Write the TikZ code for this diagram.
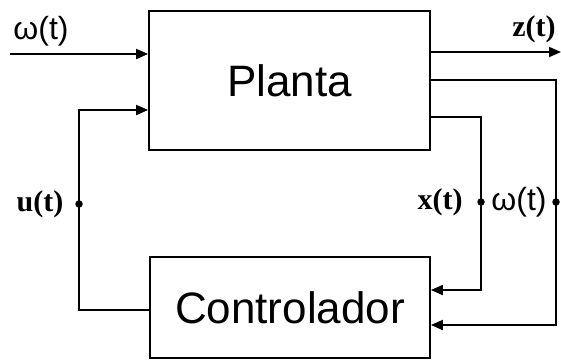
\documentclass[tikz,border=0pt]{standalone}
\usepackage{fontspec}
\setmainfont{Liberation Serif}
\newfontfamily\arialfont{Liberation Sans}
\usetikzlibrary{arrows.meta}
\tikzset{
  blockbox/.style={draw, line width=1.8pt, rectangle, inner sep=0pt,
    font=\arialfont\fontsize{44}{48}\selectfont},
  wire/.style={line width=1.8pt},
  feed/.style={wire, -{Triangle[length=12pt,width=10pt]}},
  tapdot/.style={circle, fill, inner sep=0pt, minimum size=7.5pt},
  greeklabel/.style={font=\arialfont\fontsize{32}{34}\selectfont, inner sep=0pt},
  romanlabel/.style={font=\bfseries\fontsize{30}{32}\selectfont, inner sep=0pt}
}
\begin{document}
\begin{tikzpicture}[x=1pt,y=-1pt]
  \useasboundingbox (0,0) rectangle (561,362);

  % blocks
  \node[blockbox, minimum width=281pt, minimum height=139pt] (planta) at (289.5,80.5) {Planta};
  \node[blockbox, minimum width=280pt, minimum height=101pt] (ctrl) at (290,307.5) {Controlador};

  % free ends and corners
  \coordinate (win) at (10,54);
  \coordinate (zout) at (561,52);
  \coordinate (ucorner) at (79,110);
  \coordinate (wcorner) at (556,80);
  \coordinate (xcorner) at (481,117);

  % exogenous input
  \draw[feed] (win) -- (planta.west |- win);
  % control signal
  \draw[feed] (ctrl.west |- 0,310) -| (ucorner) -- (planta.west |- ucorner);
  % performance output
  \draw[feed] (planta.east |- zout) -- (zout);
  % disturbance passed to the controller
  \draw[feed] (planta.east |- wcorner) -| (556,325) -- (ctrl.east |- 0,325);
  % measured state
  \draw[feed] (planta.east |- xcorner) -| (481,290) -- (ctrl.east |- 0,290);

  % tap points
  \node[tapdot] (udot) at (79,204) {};
  \node[tapdot] (xdot) at (481,202) {};
  \node[tapdot] (wdot) at (556,202) {};

  % signal labels
  \node[greeklabel] (wlab) at (41,31) {ω(t)};
  \node[romanlabel] (zlab) at (534,29) {z(t)};
  \node[romanlabel] (ulab) at (40,204) {u(t)};
  \node[romanlabel] (xlab) at (440,202) {x(t)};
  \node[greeklabel] (w2lab) at (519,202) {ω(t)};
\end{tikzpicture}
\end{document}
